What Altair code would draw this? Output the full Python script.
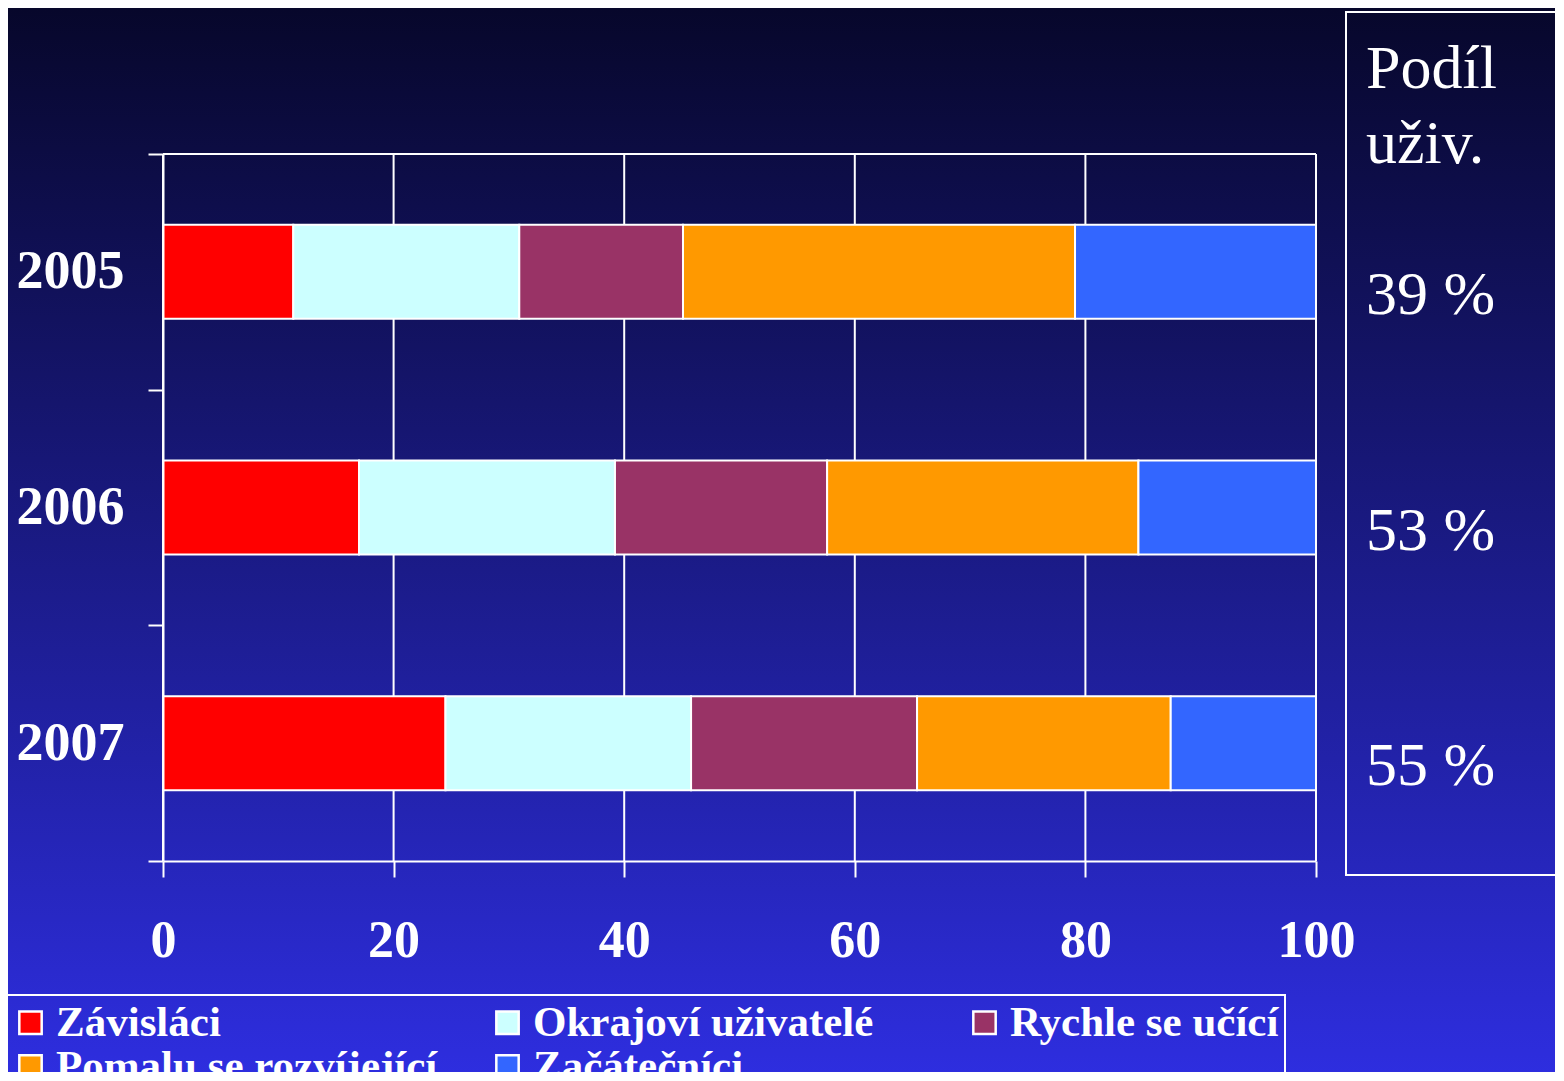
import altair as alt
import pandas as pd

years = ["2005", "2006", "2007"]
series = ["Závisláci", "Okrajoví uživatelé", "Rychle se učící", "Pomalu se rozvíjející", "Začátečníci"]
colors = ["#ff0000", "#ccffff", "#993366", "#ff9900", "#3366ff"]
values = {
    "2005": [11.3, 19.6, 14.2, 34.0, 20.9],
    "2006": [17.0, 22.2, 18.4, 27.0, 15.4],
    "2007": [24.5, 21.3, 19.6, 22.0, 12.6],
}
shares = [39, 53, 55]
x_ticks = [0, 20, 40, 60, 80, 100]
header = "Podíl\nuživ."

W, H = 1153, 707
FONT = "Liberation Serif"

rows = []
for y in years:
    for i, s in enumerate(series):
        rows.append({"year": y, "series": s, "idx": i, "value": values[y][i]})
df = pd.DataFrame(rows)
share_df = pd.DataFrame({"year": years, "share": shares})
grid_df = pd.DataFrame({"value": x_ticks})
one = pd.DataFrame({"a": [0]})

xscale = alt.Scale(domain=[0, 100], nice=False)
yscale = alt.Scale(domain=years, paddingInner=0, paddingOuter=0)

xaxis = alt.Axis(values=x_ticks, title=None, grid=False, zindex=1, labelFlush=False,
                 labelFont=FONT, labelFontSize=52, labelFontWeight="bold",
                 labelColor="white", labelPadding=38, tickSize=16,
                 tickColor="white", tickWidth=2, domainColor="white",
                 domainWidth=2)
yaxis = alt.Axis(title=None, grid=False, zindex=1, tickBand="extent",
                 labelFont=FONT, labelFontSize=54, labelFontWeight="bold",
                 labelColor="white", labelPadding=24, tickSize=15,
                 tickColor="white", tickWidth=2, domainColor="white",
                 domainWidth=2)

bg = alt.Chart(one).mark_rect(
    color=alt.LinearGradient(
        gradient="linear",
        stops=[
            alt.GradientStop(color="#07072b", offset=0),
            alt.GradientStop(color="#1a1a84", offset=0.5),
            alt.GradientStop(color="#2e2ee0", offset=1),
        ],
        x1=0, x2=0, y1=0, y2=1,
    )
).encode(
    x=alt.value(-155), x2=alt.value(1400), y=alt.value(-146), y2=alt.value(925)
)

grid = alt.Chart(grid_df).mark_rule(color="white", strokeWidth=2).encode(
    x=alt.X("value:Q", scale=xscale, axis=xaxis),
    y=alt.value(0), y2=alt.value(H),
)

topline = alt.Chart(one).mark_rule(color="white", strokeWidth=2).encode(
    x=alt.value(0), x2=alt.value(W), y=alt.value(0)
)

bars = alt.Chart(df).mark_bar(stroke="white", strokeWidth=2, size=94).encode(
    x=alt.X("value:Q", stack="zero", scale=xscale, axis=xaxis),
    y=alt.Y("year:N", scale=yscale, sort=years, axis=yaxis),
    color=alt.Color("series:N", scale=alt.Scale(domain=series, range=colors),
                    legend=alt.Legend(title=None, orient="none", legendX=-160, legendY=841,
                                      direction="horizontal", columns=3, gridAlign="all",
                                      columnPadding=48, rowPadding=-5,
                                      symbolType="square", symbolSize=500,
                                      symbolStrokeColor="white", symbolStrokeWidth=2.5,
                                      symbolOpacity=1,
                                      labelFont=FONT, labelFontSize=43, labelFontWeight="bold",
                                      labelColor="white", labelOffset=4, labelLimit=700,
                                      padding=6, strokeColor="white")),
    order=alt.Order("idx:Q"),
)

pct = alt.Chart(share_df).transform_calculate(
    label="datum.share + ' %'"
).mark_text(font=FONT, fontSize=62, color="white", align="left",
            baseline="alphabetic", dy=42).encode(
    y=alt.Y("year:N", scale=yscale, sort=years, axis=yaxis),
    x=alt.value(1203),
    text="label:N",
)

box = alt.Chart(one).mark_rect(fillOpacity=0, fill="white", stroke="white", strokeWidth=2).encode(
    x=alt.value(1183), x2=alt.value(1420), y=alt.value(-142), y2=alt.value(721)
)

head = alt.Chart(pd.DataFrame({"t": [header]})).mark_text(
    font=FONT, fontSize=62, color="white", align="left", baseline="alphabetic",
    lineBreak="\n", lineHeight=75
).encode(x=alt.value(1203), y=alt.value(-66), text="t:N")

chart = alt.layer(bg, grid, bars, topline, pct, box, head).properties(
    width=W, height=H,
    autosize=alt.AutoSizeParams(type="none"),
    padding={"left": 155, "top": 146, "right": 239, "bottom": 211},
    background="#1a1a84",
).configure_view(stroke=None).configure_legend(strokeWidth=2)

chart.save("out.html", embed_options={"renderer": "svg", "actions": False})
